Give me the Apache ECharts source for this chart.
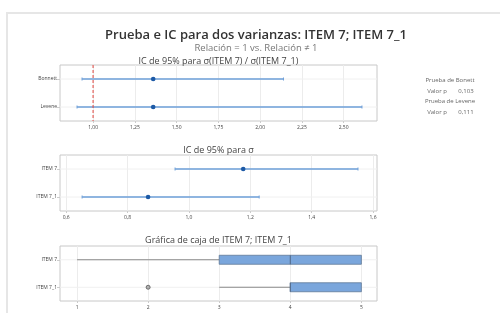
<!DOCTYPE html>
<html>
<head>
    <meta charset="utf-8">
    <script src="https://cdn.jsdelivr.net/npm/echarts@6/dist/echarts.min.js"></script>
</head>
<body style="margin:0;background:#fff">
    <div id="main" style="width: 500px;height:313px;"></div>
<script type="text/javascript">
        // datos
        var ratioCats = ['Bonnett', 'Levene'];
        var ratioCI = [[0.934, 1.36, 2.14], [0.904, 1.36, 2.61]];
        var ratioRef = 1; // relacion de hipotesis
        var ratioTicks = [1.00, 1.25, 1.50, 1.75, 2.00, 2.25, 2.50];

        var sigmaCats = ['ITEM 7', 'ITEM 7_1'];
        var sigmaCI = [[0.955, 1.177, 1.551], [0.652, 0.867, 1.229]];
        var sigmaTicks = [0.6, 0.8, 1.0, 1.2, 1.4, 1.6];

        var boxCats = ['ITEM 7', 'ITEM 7_1'];
        var boxStats = [[1, 3, 4, 5, 5], [3, 4, 4, 5, 5]]; // min, Q1, mediana, Q3, max
        var boxOutliers = [[1, 2]]; // [categoria, valor]
        var boxTicks = [1, 2, 3, 4, 5];

        var pTests = ['Prueba de Bonett', 'Prueba de Levene'];
        var pValues = ['0,103', '0,111'];

        var myChart = echarts.init(document.getElementById('main'));

        var lineColor = '#6d9fd9';
        var dotColor = '#1d5aa6';
        var font = 'Open Sans';

        function ciData(ci) {
            return ci.map(function (d, i) { return [i, d[0], d[1], d[2]]; });
        }

        function rowLine(cs, y) {
            return {type: 'line', shape: {x1: cs.x, y1: y, x2: cs.x + cs.width, y2: y},
                style: {stroke: '#f0f0f0', lineWidth: 1}};
        }

        // intervalo: linea de fondo + barra + extremos + punto
        function ciRender(params, api) {
            var cat = api.value(0);
            var lo = api.coord([api.value(1), cat]);
            var mid = api.coord([api.value(2), cat]);
            var hi = api.coord([api.value(3), cat]);
            return {
                type: 'group',
                children: [
                    rowLine(params.coordSys, lo[1]),
                    {type: 'line', shape: {x1: lo[0], y1: lo[1], x2: hi[0], y2: hi[1]},
                        style: {stroke: lineColor, lineWidth: 1.3}},
                    {type: 'line', shape: {x1: lo[0], y1: lo[1] - 1.5, x2: lo[0], y2: lo[1] + 1.5},
                        style: {stroke: lineColor, lineWidth: 1}},
                    {type: 'line', shape: {x1: hi[0], y1: hi[1] - 1.5, x2: hi[0], y2: hi[1] + 1.5},
                        style: {stroke: lineColor, lineWidth: 1}},
                    {type: 'circle', shape: {cx: mid[0], cy: mid[1], r: 2.3},
                        style: {fill: dotColor}}
                ]
            };
        }

        // linea vertical discontinua de referencia
        function refRender(params, api) {
            var x = api.coord([api.value(0), 0])[0];
            var cs = params.coordSys;
            return {type: 'line', z2: 10, shape: {x1: x, y1: cs.y, x2: x, y2: cs.y + cs.height},
                style: {stroke: '#e0463f', lineWidth: 1, lineDash: [3, 2]}};
        }

        // caja sin remates en los bigotes, como en Minitab
        function boxRender(params, api) {
            var cat = api.value(0);
            var p = [1, 2, 3, 4, 5].map(function (k) { return api.coord([api.value(k), cat]); });
            var y = p[0][1], h = 9;
            return {
                type: 'group',
                children: [
                    rowLine(params.coordSys, y),
                    {type: 'line', shape: {x1: p[0][0], y1: y, x2: p[1][0], y2: y},
                        style: {stroke: '#8a8a8a', lineWidth: 1}},
                    {type: 'line', shape: {x1: p[3][0], y1: y, x2: p[4][0], y2: y},
                        style: {stroke: '#8a8a8a', lineWidth: 1}},
                    {type: 'rect', shape: {x: p[1][0], y: y - h / 2, width: p[3][0] - p[1][0], height: h},
                        style: {fill: '#7aa6dc', stroke: '#5f7897', lineWidth: 0.8}},
                    {type: 'line', shape: {x1: p[2][0], y1: y - h / 2, x2: p[2][0], y2: y + h / 2},
                        style: {stroke: '#4f6686', lineWidth: 1}}
                ]
            };
        }

        function fmt(dec) {
            return function (v) { return v.toFixed(dec).replace('.', ','); };
        }

        function xAx(idx, min, max, ticks, dec) {
            return {
                type: 'value', gridIndex: idx, min: min, max: max,
                axisLine: {show: false},
                axisTick: {show: true, customValues: ticks, length: 2, lineStyle: {color: '#ccc'}},
                axisLabel: {customValues: ticks, formatter: fmt(dec), fontSize: 5, color: '#444', fontFamily: font, margin: 4},
                splitLine: {show: true, customValues: ticks, lineStyle: {color: '#ececec', width: 1}}
            };
        }

        function yAx(idx, cats) {
            return {
                type: 'category', gridIndex: idx, data: cats, inverse: true,
                axisLine: {show: false},
                axisTick: {show: true, alignWithLabel: true, length: 3, lineStyle: {color: '#ccc'}},
                axisLabel: {fontSize: 5, color: '#444', fontFamily: font, margin: 3},
                splitLine: {show: false}
            };
        }

        var gridBase = {left: 60, width: 317, height: 56, show: true, borderColor: '#c8c8c8', borderWidth: 1, backgroundColor: '#fff'};

        var panelTitle = function (text, top) {
            return {text: text, left: 218.5, top: top, textAlign: 'center', padding: 0,
                textStyle: {fontSize: 9, fontWeight: 'normal', color: '#444', fontFamily: font, lineHeight: 10}};
        };

        option = {
            backgroundColor: '#fff',
            animation: false,
            title: [
                {text: 'Prueba e IC para dos varianzas: ITEM 7; ITEM 7_1', subtext: 'Relación = 1 vs. Relación ≠ 1',
                    left: 256, top: 28, textAlign: 'center', itemGap: 0, padding: 0,
                    textStyle: {fontSize: 13, fontWeight: 600, color: '#333', fontFamily: font, lineHeight: 15},
                    subtextStyle: {fontSize: 9.5, color: '#777', fontFamily: font, lineHeight: 10}},
                panelTitle('IC de 95% para σ(ITEM 7) / σ(ITEM 7_1)', 56),
                panelTitle('IC de 95% para σ', 145),
                panelTitle('Gráfica de caja de ITEM 7; ITEM 7_1', 235)
            ],
            grid: [
                Object.assign({}, gridBase, {top: 65}),
                Object.assign({}, gridBase, {top: 155}),
                Object.assign({}, gridBase, {top: 246, height: 55})
            ],
            xAxis: [
                xAx(0, 0.802, 2.70, ratioTicks, 2),
                xAx(1, 0.58, 1.613, sigmaTicks, 1),
                xAx(2, 0.76, 5.22, boxTicks, 0)
            ],
            yAxis: [yAx(0, ratioCats), yAx(1, sigmaCats), yAx(2, boxCats)],
            graphic: [
                {type: 'rect', shape: {x: 7, y: 13, width: 520, height: 330},
                    style: {fill: 'none', stroke: '#e6e6e6', lineWidth: 2}, silent: true}
            ].concat(pTests.map(function (t, i) {
                return {type: 'group', children: [
                    {type: 'text', x: 450, y: 80 + i * 21, style: {text: t, fontSize: 6, fill: '#666', fontFamily: font, align: 'center', verticalAlign: 'middle'}},
                    {type: 'text', x: 437, y: 91 + i * 21, style: {text: 'Valor p', fontSize: 6, fill: '#666', fontFamily: font, align: 'center', verticalAlign: 'middle'}},
                    {type: 'text', x: 466, y: 91 + i * 21, style: {text: pValues[i], fontSize: 6, fill: '#666', fontFamily: font, align: 'center', verticalAlign: 'middle'}}
                ]};
            })),
            series: [
                {
                    type: 'custom', xAxisIndex: 0, yAxisIndex: 0,
                    renderItem: ciRender, data: ciData(ratioCI)
                },
                {
                    type: 'custom', xAxisIndex: 0, yAxisIndex: 0, z: 5,
                    renderItem: refRender, data: [[ratioRef]]
                },
                {
                    type: 'custom', xAxisIndex: 1, yAxisIndex: 1,
                    renderItem: ciRender, data: ciData(sigmaCI)
                },
                {
                    type: 'custom', xAxisIndex: 2, yAxisIndex: 2,
                    renderItem: boxRender,
                    data: boxStats.map(function (b, i) { return [i].concat(b); })
                },
                {
                    type: 'scatter', xAxisIndex: 2, yAxisIndex: 2,
                    symbol: 'circle', symbolSize: 4,
                    itemStyle: {color: '#a0a0a0', borderColor: '#555', borderWidth: 1},
                    data: boxOutliers.map(function (o) { return [o[1], o[0]]; })
                }
            ]
        };

        myChart.setOption(option);
    </script>
</body>
</html>
